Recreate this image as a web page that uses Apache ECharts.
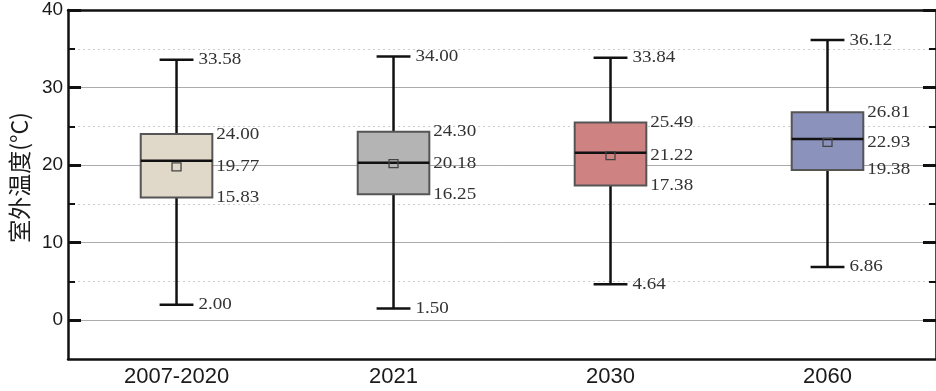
<!DOCTYPE html>
<html>
<head>
<meta charset="utf-8">
<script src="https://cdn.jsdelivr.net/npm/echarts@6/dist/echarts.min.js"></script>
<style>
  html, body { margin: 0; padding: 0; background: #fff; }
  #chart { width: 936px; height: 391px; }
</style>
</head>
<body>
<div id="chart"></div>
<script>
// Outdoor temperature distribution per period (°C)
const categories = ['2007-2020', '2021', '2030', '2060'];
const minVals    = [2.00, 1.50, 4.64, 6.86];
const q1Vals     = [15.83, 16.25, 17.38, 19.38];
const medianVals = [20.57, 20.31, 21.60, 23.36];
const q3Vals     = [24.00, 24.30, 25.49, 26.81];
const maxVals    = [33.58, 34.00, 33.84, 36.12];
const meanVals   = [19.77, 20.18, 21.22, 22.93];

const majorTicks = [0, 10, 20, 30, 40];
const minorTicks = [5, 15, 25, 35];

const boxFill = ['#e0d8c8', '#b4b4b4', '#cf8282', '#8b92bc'];

const boxData = categories.map((c, i) => [
  i, minVals[i], q1Vals[i], medianVals[i], q3Vals[i], maxVals[i], meanVals[i]
]);

const labelFont = '17px "Liberation Serif", "Times New Roman", serif';

function renderBox(params, api) {
  const idx = api.value(0);
  const pMin = api.coord([idx, api.value(1)]);
  const pQ1 = api.coord([idx, api.value(2)]);
  const pMed = api.coord([idx, api.value(3)]);
  const pQ3 = api.coord([idx, api.value(4)]);
  const pMax = api.coord([idx, api.value(5)]);
  const pMean = api.coord([idx, api.value(6)]);
  const band = api.size([1, 0])[0];
  const cx = pMed[0];
  const bw = band * 0.33;
  const cw = band * 0.156;
  const bl = cx - bw / 2, br = cx + bw / 2;
  const whisk = { stroke: '#111', lineWidth: 2.5 };
  const fmt = v => v.toFixed(2);
  // value labels, slightly widened serif text
  const txt = (x, y, v) => ({
    type: 'text',
    x: x, y: y,
    scaleX: 1.12,
    style: { text: fmt(v), font: labelFont, fill: '#333', align: 'left', verticalAlign: 'middle' }
  });
  return {
    type: 'group',
    children: [
      { type: 'line', shape: { x1: cx, y1: pMin[1], x2: cx, y2: pQ1[1] }, style: whisk },
      { type: 'line', shape: { x1: cx, y1: pQ3[1], x2: cx, y2: pMax[1] }, style: whisk },
      { type: 'line', shape: { x1: cx - cw / 2, y1: pMin[1], x2: cx + cw / 2, y2: pMin[1] }, style: whisk },
      { type: 'line', shape: { x1: cx - cw / 2, y1: pMax[1], x2: cx + cw / 2, y2: pMax[1] }, style: whisk },
      { type: 'rect', shape: { x: bl, y: pQ3[1], width: bw, height: pQ1[1] - pQ3[1] },
        style: { fill: boxFill[idx], stroke: '#555', lineWidth: 2 } },
      { type: 'line', shape: { x1: bl, y1: pMed[1], x2: br, y2: pMed[1] }, style: { stroke: '#111', lineWidth: 2.5 } },
      { type: 'rect', shape: { x: cx - 4.5, y: pMean[1] - 4, width: 9, height: 8 },
        style: { fill: 'none', stroke: '#444', lineWidth: 1.3 } },
      txt(cx + cw / 2 + 5, pMax[1], api.value(5)),
      txt(cx + cw / 2 + 5, pMin[1], api.value(1)),
      txt(br + 4, pQ3[1], api.value(4)),
      txt(br + 4, pMean[1], api.value(6)),
      txt(br + 4, pQ1[1], api.value(2))
    ]
  };
}

const yBase = { type: 'value', min: -5, max: 40 };

const chart = echarts.init(document.getElementById('chart'));
chart.setOption({
  animation: false,
  backgroundColor: '#fff',
  grid: { left: 67, right: -3, top: 10, bottom: 32 },
  xAxis: [
    {
      type: 'category',
      data: categories,
      boundaryGap: true,
      axisLine: { onZero: false, lineStyle: { color: '#111', width: 2.5 } },
      axisTick: { inside: true, alignWithLabel: true, length: 10, lineStyle: { color: '#111', width: 2 } },
      axisLabel: { fontSize: 22, fontFamily: '"Liberation Sans", Arial, sans-serif', color: '#1a1a1a', margin: 7 },
      splitLine: { show: false }
    },
    {
      type: 'category',
      data: categories,
      position: 'top',
      axisLine: { onZero: false, lineStyle: { color: '#111', width: 2.5 } },
      axisTick: { show: false },
      axisLabel: { show: false },
      splitLine: { show: false }
    }
  ],
  yAxis: [
    Object.assign({}, yBase, {
      position: 'left',
      name: '室外温度(°C)',
      nameLocation: 'middle',
      nameGap: 36,
      nameTextStyle: { fontSize: 23, fontFamily: '"Noto Sans CJK SC", sans-serif', color: '#1a1a1a', padding: [0, 0, 0, 14] },
      axisLine: { show: true, onZero: false, lineStyle: { color: '#111', width: 2.5 } },
      axisTick: { show: true, inside: true, length: 13, customValues: majorTicks, lineStyle: { color: '#111', width: 3 } },
      axisLabel: { customValues: majorTicks, fontSize: 19, fontFamily: '"Liberation Sans", Arial, sans-serif', color: '#1a1a1a', margin: 5 },
      splitLine: { show: true, lineStyle: { color: '#ababab', width: 1 } }
    }),
    Object.assign({}, yBase, {
      position: 'left',
      axisLine: { show: false, onZero: false },
      axisTick: { show: true, inside: true, length: 7, customValues: minorTicks, lineStyle: { color: '#111', width: 2 } },
      axisLabel: { show: false, customValues: minorTicks },
      splitLine: { show: true, lineStyle: { color: '#cccccc', width: 1, type: [2, 3] } }
    }),
    Object.assign({}, yBase, {
      position: 'right',
      axisLine: { show: true, onZero: false, lineStyle: { color: '#111', width: 2.5 } },
      axisTick: { show: true, inside: true, length: 13, customValues: majorTicks, lineStyle: { color: '#111', width: 3 } },
      axisLabel: { show: false, customValues: majorTicks },
      splitLine: { show: false }
    }),
    Object.assign({}, yBase, {
      position: 'right',
      axisLine: { show: false, onZero: false },
      axisTick: { show: true, inside: true, length: 7, customValues: minorTicks, lineStyle: { color: '#111', width: 2 } },
      axisLabel: { show: false, customValues: minorTicks },
      splitLine: { show: false }
    })
  ],
  series: [
    {
      type: 'custom',
      xAxisIndex: 0,
      yAxisIndex: 0,
      renderItem: renderBox,
      encode: { x: 0, y: [1, 2, 3, 4, 5, 6] },
      data: boxData,
      z: 5
    }
  ]
});
</script>
</body>
</html>
